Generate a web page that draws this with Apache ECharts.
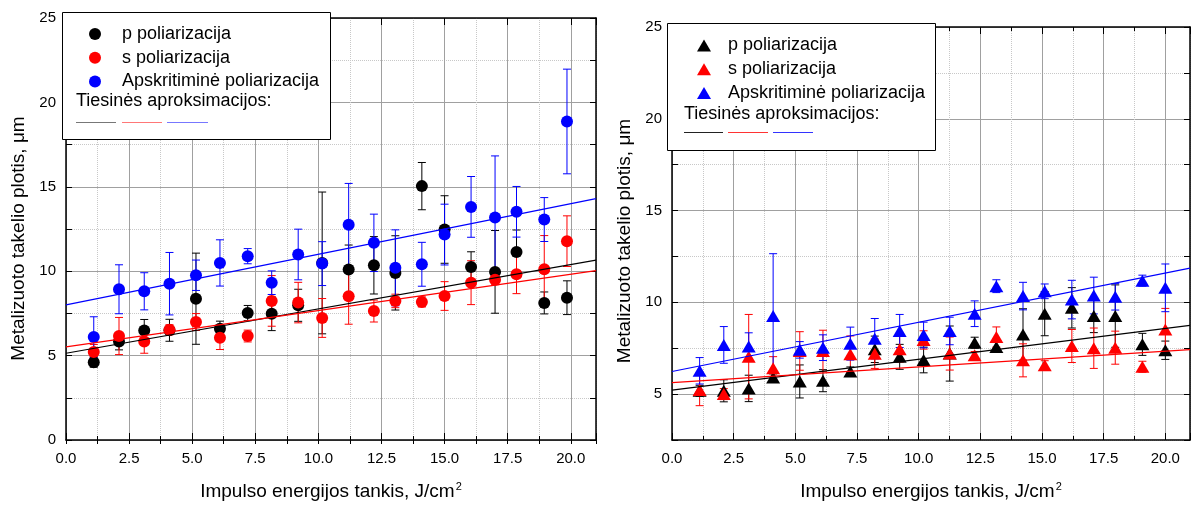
<!DOCTYPE html>
<html>
<head>
<meta charset="utf-8">
<script src="https://cdn.jsdelivr.net/npm/echarts@6/dist/echarts.min.js"></script>
<style>
html, body { margin: 0; padding: 0; background: #fff; }
.panel { position: absolute; top: 0; width: 599px; height: 506px; }
#left { left: 0; }
#right { left: 599px; }
</style>
</head>
<body>
<div id="left" class="panel"></div>
<div id="right" class="panel"></div>
<script>
var NAMES = ['p poliarizacija', 's poliarizacija', 'Apskritiminė poliarizacija'];
var FIT_TITLE = 'Tiesinės aproksimacijos:';
var X_TITLE = 'Impulso energijos tankis, J/cm';
var Y_TITLE = 'Metalizuoto takelio plotis, μm';

// left panel (circles)
var energyL = [1.1, 2.1, 3.1, 4.1, 5.15, 6.1, 7.2, 8.15, 9.2, 10.15, 11.2, 12.2, 13.05, 14.1, 15.0, 16.05, 17.0, 17.85, 18.95, 19.85];
var pL = [4.61, 5.84, 6.49, 6.5, 8.37, 6.59, 7.52, 7.48, 7.98, 10.49, 10.1, 10.35, 9.9, 15.04, 12.47, 10.25, 9.96, 11.14, 8.12, 8.43];
var pErrL = [0.3, 0.5, 0.65, 0.65, 2.7, 0.45, 0.45, 1.0, 0.95, 4.2, 1.45, 1.7, 2.2, 1.4, 2.0, 0.9, 2.45, 1.3, 0.65, 1.0];
var sL = [5.21, 6.16, 5.84, 6.53, 6.99, 6.06, 6.16, 8.24, 8.14, 7.23, 8.51, 7.64, 8.24, 8.18, 8.53, 9.32, 9.5, 9.82, 10.11, 11.78];
var sErrL = [0.45, 1.1, 0.7, 0.3, 0.5, 0.7, 0.35, 1.5, 1.2, 1.15, 1.65, 0.65, 0.4, 0.3, 0.85, 1.3, 0.3, 1.15, 2.0, 1.5];
var aL = [6.1, 8.93, 8.81, 9.26, 9.76, 10.49, 10.89, 9.32, 10.99, 10.45, 12.75, 11.68, 10.2, 10.41, 12.17, 13.81, 13.18, 13.52, 13.06, 18.87];
var aErrL = [1.2, 1.45, 1.1, 1.85, 0.9, 1.37, 0.45, 0.7, 1.5, 1.3, 2.45, 1.7, 2.25, 1.3, 1.8, 1.8, 3.65, 1.5, 1.3, 3.1];
var fitPL = [[0, 5.14], [21, 10.66]];
var fitSL = [[0, 5.52], [21, 10.03]];
var fitAL = [[0, 8.0], [21, 14.3]];

// right panel (triangles)
var energyR = [1.12, 2.1, 3.11, 4.1, 5.18, 6.12, 7.23, 8.22, 9.23, 10.2, 11.26, 12.27, 13.15, 14.23, 15.11, 16.21, 17.1, 17.97, 19.07, 20.0];
var pR = [5.18, 5.18, 5.31, 5.9, 5.69, 5.73, 6.23, 7.44, 7.03, 6.86, 7.21, 7.8, 7.57, 8.25, 9.38, 9.7, 9.25, 9.25, 7.71, 7.39];
var pErrR = [0.3, 0.6, 0.72, 0.2, 0.9, 0.6, 0.25, 0.72, 0.68, 0.7, 1.5, 0.3, 0.25, 1.4, 1.2, 1.1, 0.9, 1.7, 0.6, 0.5];
var sR = [5.22, 5.0, 7.04, 6.41, 7.35, 7.35, 7.17, 7.2, 7.44, 7.95, 7.21, 7.12, 8.11, 6.84, 6.57, 7.62, 7.5, 7.53, 6.49, 8.52];
var sErrR = [0.85, 0.3, 2.3, 0.63, 1.05, 1.13, 1.0, 0.8, 0.7, 0.5, 0.9, 0.2, 0.55, 0.9, 0.25, 0.9, 1.1, 0.9, 0.3, 1.15];
var aR = [6.27, 7.68, 7.59, 9.25, 7.41, 7.53, 7.75, 8.02, 8.44, 8.22, 8.44, 9.38, 10.88, 10.34, 10.6, 10.15, 10.37, 10.3, 11.18, 10.79];
var aErrR = [0.72, 1.0, 0.75, 3.4, 0.45, 0.7, 0.9, 1.1, 0.9, 0.7, 0.75, 0.7, 0.35, 0.75, 0.4, 1.05, 1.0, 0.72, 0.3, 1.3];
var fitPR = [[0, 5.22], [21, 8.74]];
var fitSR = [[0, 5.63], [21, 7.42]];
var fitAR = [[0, 6.23], [21, 11.86]];

var COLORS = ['#000000', '#ff0000', '#0000ff'];
var FONT = '"Liberation Sans", Arial, sans-serif';
var GRID = '#a0a0a0';
var DOT = '#c8c8c8';
var NONE = 'rgba(0,0,0,0)';

function errorBars (xs, ys, errs, color) {
    var rows = xs.map(function (x, i) { return [x, ys[i] - errs[i], ys[i] + errs[i]]; });
    return {
        type: 'custom',
        data: rows,
        silent: true,
        encode: {x: 0, y: [1, 2]},
        renderItem: function (params, api) {
            var lo = api.coord([api.value(0), api.value(1)]);
            var hi = api.coord([api.value(0), api.value(2)]);
            var st = {stroke: color, lineWidth: 1};
            return {type: 'group', children: [
                {type: 'line', shape: {x1: lo[0], y1: lo[1], x2: hi[0], y2: hi[1]}, style: st},
                {type: 'line', shape: {x1: lo[0] - 4, y1: lo[1], x2: lo[0] + 4, y2: lo[1]}, style: st},
                {type: 'line', shape: {x1: hi[0] - 4, y1: hi[1], x2: hi[0] + 4, y2: hi[1]}, style: st}
            ]};
        }
    };
}

function frameLine () {
    return {show: true, onZero: false, lineStyle: {color: '#000', width: 1.5}};
}

function drawChart (el, panel) {
    var chart = echarts.init(el);
    var series = [];
    panel.fits.forEach(function (fit, i) {
        series.push({type: 'line', data: fit, symbol: 'none', silent: true,
            lineStyle: {color: COLORS[i], width: 1.2}});
    });
    panel.ys.forEach(function (ys, i) {
        series.push(errorBars(panel.x, ys, panel.errs[i], COLORS[i]));
        series.push({
            type: 'scatter',
            name: NAMES[i],
            data: panel.x.map(function (x, k) { return [x, ys[k]]; }),
            symbol: panel.symbol,
            symbolSize: panel.symbolSize,
            itemStyle: {color: COLORS[i], opacity: 1}
        });
    });

    var onMajor = panel.ymin % 5 === 0;
    var g = panel.grid;
    var lg = panel.legend;

    var option = {
        animation: false,
        textStyle: {fontFamily: FONT},
        grid: {left: g.left, top: g.top, width: g.width, height: g.height, containLabel: false},
        xAxis: [
            {
                type: 'value', position: 'bottom', min: 0, max: 21, interval: 2.5,
                axisLine: frameLine(),
                axisTick: {inside: true, length: 7, lineStyle: {color: '#000'}},
                axisLabel: {margin: 11, fontSize: 15, color: '#000', fontFamily: FONT,
                    formatter: function (v) { return v <= 20 ? v.toFixed(1) : ''; }},
                splitLine: {show: true, lineStyle: {color: GRID, width: 1}},
                name: X_TITLE + '{sup|2}', nameLocation: 'middle', nameGap: 41,
                nameTextStyle: {fontSize: 19, color: '#000', fontFamily: FONT,
                    rich: {sup: {fontSize: 11, verticalAlign: 'top', padding: [0, 0, 10, 1], fontFamily: FONT, color: '#000'}}}
            },
            {
                type: 'value', position: 'bottom', min: 0, max: 21, interval: 1.25,
                axisLine: {show: false},
                axisTick: {inside: true, length: 4, lineStyle: {color: '#000'}},
                axisLabel: {show: false},
                splitLine: {show: true, lineStyle: {color: [NONE, DOT], type: 'dotted', width: 1}}
            },
            {
                type: 'value', position: 'top', min: 0, max: 21, interval: 2.5,
                axisLine: frameLine(),
                axisTick: {inside: true, length: 7, lineStyle: {color: '#000'}},
                axisLabel: {show: false}, splitLine: {show: false}
            },
            {
                type: 'value', position: 'top', min: 0, max: 21, interval: 1.25,
                axisLine: {show: false},
                axisTick: {inside: true, length: 4, lineStyle: {color: '#000'}},
                axisLabel: {show: false}, splitLine: {show: false}
            }
        ],
        yAxis: [
            {
                type: 'value', position: 'left', min: panel.ymin, max: 25, interval: 2.5,
                axisLine: frameLine(),
                axisTick: {inside: true, length: 6, lineStyle: {color: '#000'}},
                axisLabel: {margin: 10, fontSize: 15, color: '#000', fontFamily: FONT,
                    formatter: function (v) { return v % 5 === 0 ? String(v) : ''; }},
                splitLine: {show: true, lineStyle: {color: onMajor ? [GRID, NONE] : [NONE, GRID], width: 1}},
                name: Y_TITLE, nameLocation: 'middle', nameGap: 38,
                nameTextStyle: {fontSize: 19, color: '#000', fontFamily: FONT, padding: [0, panel.titleShift, 0, 0]}
            },
            {
                type: 'value', position: 'right', min: panel.ymin, max: 25, interval: 2.5,
                axisLine: frameLine(),
                axisTick: {inside: true, length: 6, lineStyle: {color: '#000'}},
                axisLabel: {show: false},
                splitLine: {show: true, lineStyle: {color: onMajor ? [NONE, DOT] : [DOT, NONE], type: 'dotted', width: 1}}
            }
        ],
        legend: {
            orient: 'vertical', left: lg.left, top: lg.top, padding: 0,
            itemWidth: lg.itemWidth, itemHeight: 12, itemGap: 5.7,
            selectedMode: false,
            textStyle: {fontSize: 18, color: '#000', fontFamily: FONT, padding: [0, 0, 0, lg.textPad]},
            data: NAMES.map(function (n) { return {name: n, icon: panel.symbol}; })
        },
        graphic: [
            {type: 'rect', z: 3, shape: lg.box, style: {fill: '#fff', stroke: '#000', lineWidth: 1}},
            {type: 'text', z: 5, x: lg.fitText[0], y: lg.fitText[1],
                style: {text: FIT_TITLE, fontSize: 18, fontFamily: FONT, fill: '#000', verticalAlign: 'middle'}}
        ].concat(lg.samples.map(function (s, i) {
            return {type: 'line', z: 5, shape: {x1: s[0], y1: lg.sampleY, x2: s[1], y2: lg.sampleY},
                style: {stroke: lg.sampleColors[i], lineWidth: 1}};
        })),
        series: series
    };
    chart.setOption(option);
    window.addEventListener('resize', function () { chart.resize(); });
}

drawChart(document.getElementById('left'), {
    x: energyL,
    ys: [pL, sL, aL],
    errs: [pErrL, sErrL, aErrL],
    fits: [fitPL, fitSL, fitAL],
    symbol: 'circle',
    symbolSize: 12,
    ymin: 0,
    titleShift: 19,
    grid: {left: 66, top: 18, width: 531, height: 423},
    legend: {
        left: 89, top: 25, itemWidth: 12, textPad: 16,
        box: {x: 62.5, y: 12.5, width: 268, height: 127},
        fitText: [76, 101],
        sampleY: 122.5,
        samples: [[76, 116], [122, 162], [167, 208]],
        sampleColors: ['#777777', '#ff7777', '#7777ff']
    }
});

drawChart(document.getElementById('right'), {
    x: energyR,
    ys: [pR, sR, aR],
    errs: [pErrR, sErrR, aErrR],
    fits: [fitPR, fitSR, fitAR],
    symbol: 'triangle',
    symbolSize: [14, 12],
    ymin: 2.5,
    titleShift: 15,
    grid: {left: 73, top: 27, width: 518, height: 416},
    legend: {
        left: 98, top: 36.5, itemWidth: 14, textPad: 12,
        box: {x: 68.5, y: 23.5, width: 268, height: 127},
        fitText: [85, 114],
        sampleY: 132.5,
        samples: [[85, 124], [129, 169], [174, 214]],
        sampleColors: ['#222222', '#ff3333', '#3333ff']
    }
});
</script>
</body>
</html>
